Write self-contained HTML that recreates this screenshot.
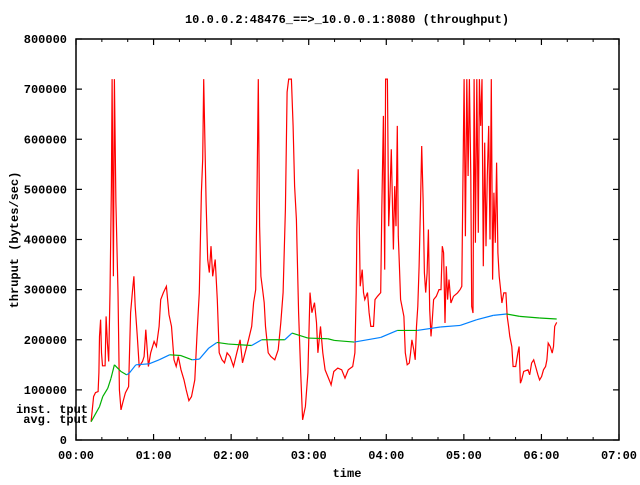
<!DOCTYPE html>
<html><head><meta charset="utf-8"><style>
body{margin:0;background:#fff;}
svg text{font-family:"Liberation Mono","DejaVu Sans Mono",monospace;font-weight:bold;font-size:12px;fill:#000;}
</style></head><body>
<svg id="chart" width="640" height="480" viewBox="0 0 640 480" xmlns="http://www.w3.org/2000/svg">
<text x="347" y="23" text-anchor="middle">10.0.0.2:48476_==&gt;_10.0.0.1:8080 (throughput)</text>
<text x="347" y="477" text-anchor="middle">time</text>
<text transform="translate(18,240) rotate(-90)" text-anchor="middle">thruput (bytes/sec)</text>
<text x="88" y="413" text-anchor="end">inst. tput</text>
<text x="88" y="423" text-anchor="end">avg. tput</text>
<g id="axes"></g>
<g id="series"></g>
</svg>
<script>
const xTickLabels=["00:00","01:00","02:00","03:00","04:00","05:00","06:00","07:00"];
const yTickValues=[0,100000,200000,300000,400000,500000,600000,700000,800000];
const instT=[11.7,13.6,15.1,17.1,17.7,18.2,19.0,19.7,20.5,22.5,23.3,24.3,25.3,26.3,27.4,27.9,28.9,29.7,30.9,32.5,33.6,34.8,36.1,38.2,40.7,42.2,43.8,44.8,45.8,47.4,48.9,51.4,52.7,54.0,56.0,57.8,60.4,62.2,64.3,65.5,67.6,69.9,71.9,73.9,75.8,77.5,79.1,81.2,83.5,85.2,87.3,89.3,91.9,93.7,95.4,97.0,98.0,98.8,99.6,100.6,101.9,103.1,104.4,105.7,107.7,109.3,110.8,112.9,114.9,116.9,119.2,121.8,124.4,126.9,128.8,130.8,133.4,135.9,137.4,139.0,140.0,141.0,142.0,143.0,144.3,145.6,146.6,148.7,150.7,153.8,156.4,158.4,160.2,162.0,163.3,164.5,166.6,167.9,169.1,170.5,172.2,173.8,175.3,177.4,179.4,181.0,182.5,184.5,186.0,187.1,189.1,190.9,192.7,194.8,196.8,197.3,199.4,202.5,205.5,208.1,210.6,214.0,215.7,216.7,217.3,218.3,219.1,219.8,221.4,222.4,223.4,225.5,226.7,228.0,230.1,231.3,233.2,235.7,236.5,237.8,238.8,239.5,240.9,241.9,242.9,243.9,245.5,246.5,247.5,248.5,249.3,250.1,251.1,252.6,253.6,254.7,256.2,257.8,258.8,259.8,261.3,262.4,263.4,264.4,265.4,266.4,267.4,268.5,269.5,270.5,271.6,272.6,273.6,274.6,275.6,276.6,278.7,280.8,282.3,283.3,284.3,285.4,286.4,287.4,288.5,290.0,292.0,295.1,297.1,298.4,299.2,300.2,301.2,302.3,303.3,304.3,305.4,306.1,307.1,307.9,308.9,310.0,311.2,312.0,313.0,314.0,315.0,316.1,317.1,318.1,319.2,320.2,321.2,322.2,323.2,324.3,325.3,326.3,327.3,328.4,329.4,330.9,332.5,333.5,334.6,335.5,337.1,338.1,340.1,341.7,342.7,343.7,344.7,346.3,349.6,350.9,352.4,354.0,355.5,357.3,358.6,360.1,361.6,363.2,364.2,365.2,366.8,368.3,369.3,370.3,371.8];
const instV=[36.6,86.6,94.6,96.6,134,206.6,240,174,148,148,246.6,194,156.6,294,506.6,720,326.6,720,474,294,100,60,74,94,106.6,254,300,326.6,266.6,206.6,146.6,156.6,166.6,220,146.6,174,196.6,186.6,226.6,280,294,306.6,250,226.6,160,146.6,166.6,140,120,100,78.6,86.6,120,214,294,494,560,720,606.6,474,360,334,386.6,326.6,360,280,174,160,154,174,166.6,146.6,174,200,154,174,200,226.6,274,300,494,720,426.6,326.6,300,274,226.6,174,166.6,160,180,234,294,460,694,720,720,626.6,506.6,440,254,134,40,66.6,134,294,254,274,234,174,226.6,174,140,126.6,114,110,136.6,143.4,140,123.4,140,146.6,174,294,420,540,426.6,306.6,340,294,280,294,254,226.6,226.6,280,286.6,294,460,646.6,340,720,720,426.6,494,580,380,506.6,426.6,626.6,406.6,353.4,280,260,246.6,174,150,153.4,174,200,180,160,226.6,266.6,346.6,460,586.6,480,333.4,294,333.4,420,260,206.6,240,280,286.6,300,300,386.6,373.4,233.4,346.6,280,320,273.4,286.6,293.4,300,306.6,493.4,720,406.6,720,526.6,720,526.6,266.6,253.4,720,393.4,720,413.4,720,626.6,720,346.6,593.4,386.6,526.6,626.6,400,720,320,493.4,393.4,553.4,373.4,326.6,300,273.4,293.4,293.4,246.6,226.6,206.6,186.6,146.6,146.6,173.4,186.6,113.4,120,136.6,140,130,153.4,160,146.6,130,120,126.6,140,146.6,160,193.4,186.6,173.4,186.6,226.6,234.6];
const avgT=[11.7,18.2,20.7,24.6,27.1,29.7,34.8,39.2,41.2,46.3,56.6,64.3,72.4,80.8,89.8,95.4,102.7,109.0,118.0,135.9,143.6,148.7,161.5,167.1,179.4,194.8,199.9,215.2,235.7,248.5,263.9,281.8,297.1,310.0,322.7,333.0,343.2,358.6,371.8];
const avgV=[36.6,66.6,86.6,103.4,123.4,150,136.6,130,133.4,150,152,160,170,168.6,160,161.4,183.4,194.6,191.4,188.6,200,200,200,213.4,203.4,202,198.6,195.4,204.6,218.6,218.6,225.4,228.6,240,248.6,251.4,246.6,243.4,241.4];

const NS="http://www.w3.org/2000/svg";
const X0=76,X1=619,Y0=440,Y1=39,TMAX=420,VMAX=800000;
function xs(t){return X0+(t/TMAX)*(X1-X0);}
function ys(v){return Y0-(v/VMAX)*(Y0-Y1);}
const axes=document.getElementById('axes'),ser=document.getElementById('series');
function mk(tag,attrs,parent){const e=document.createElementNS(NS,tag);for(const k in attrs)e.setAttribute(k,attrs[k]);parent.appendChild(e);return e;}

const frame=mk('rect',{x:X0,y:Y1,width:X1-X0,height:Y0-Y1,fill:'none',stroke:'#000','stroke-width':1.5},axes);



xTickLabels.forEach((lab,i)=>{
  const x=xs(i*60);
  const t=mk('line',{x1:x,x2:x,y1:Y0,y2:Y0-6,stroke:'#000','stroke-width':1.2},axes);
  
  
  const t2=mk('line',{x1:x,x2:x,y1:Y1,y2:Y1+6,stroke:'#000','stroke-width':1.2},axes);
  
  
  if(i<xTickLabels.length-1){for(let m=1;m<3;m++){const mx=xs(i*60+m*20);
    const mt=mk('line',{x1:mx,x2:mx,y1:Y0,y2:Y0-3,stroke:'#000','stroke-width':1},axes);
    
    
    const mt2=mk('line',{x1:mx,x2:mx,y1:Y1,y2:Y1+3,stroke:'#000','stroke-width':1},axes);
    
    }}
  const tx=mk('text',{x:x,y:459,'text-anchor':'middle'},axes);tx.textContent=lab;
  
  
});
yTickValues.forEach(v=>{
  const y=ys(v);
  const t=mk('line',{x1:X0,x2:X0+6,y1:y,y2:y,stroke:'#000','stroke-width':1.2},axes);
  
  
  const t2=mk('line',{x1:X1,x2:X1-6,y1:y,y2:y,stroke:'#000','stroke-width':1.2},axes);
  
  
  const tx=mk('text',{x:67,y:y+4,'text-anchor':'end'},axes);tx.textContent=String(v);
  
  
});

let d='';
instT.forEach((t,i)=>{d+=(i?'L':'M')+xs(t).toFixed(1)+' '+ys(instV[i]*1000).toFixed(1);});
const inst=mk('path',{d:d,fill:'none',stroke:'#ff0000','stroke-width':1.2},ser);



for(let i=0;i<avgT.length-1;i++){
  const up=avgV[i+1]>avgV[i];
  const col=(i<5)?'#00b000':(up?'#0080ff':'#00b000');
  const seg=mk('line',{x1:xs(avgT[i]),y1:ys(avgV[i]*1000),x2:xs(avgT[i+1]),y2:ys(avgV[i+1]*1000),stroke:col,'stroke-width':1.2},ser);
  
  
}
</script>
</body></html>
